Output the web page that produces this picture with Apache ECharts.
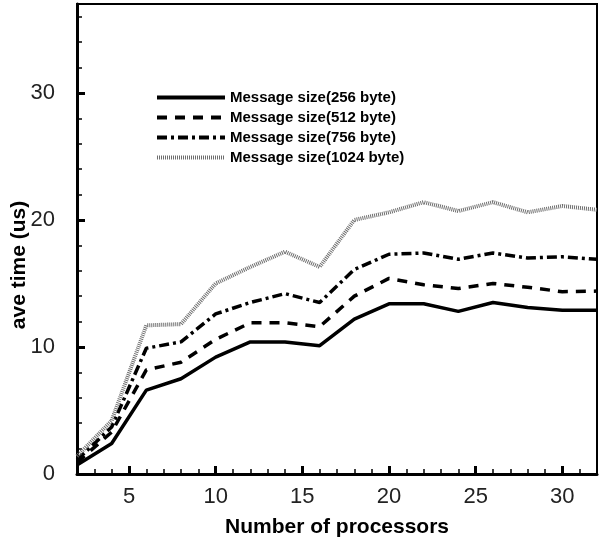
<!DOCTYPE html>
<html>
<head>
<meta charset="utf-8">
<script src="https://cdn.jsdelivr.net/npm/echarts@6/dist/echarts.min.js"></script>
<style>
  html, body { margin: 0; padding: 0; background: #fff; }
  #chart { width: 600px; height: 543px; }
</style>
</head>
<body>
<div id="chart"></div>
<script>
// Average message time versus number of processors, per message size
const processors = [2, 4, 6, 8, 10, 12, 14, 16, 18, 20, 22, 24, 26, 28, 30, 32];
const size256  = [0.7, 2.4, 6.6, 7.5, 9.2, 10.4, 10.4, 10.1, 12.2, 13.4, 13.4, 12.8, 13.5, 13.1, 12.9, 12.9];
const size512  = [0.9, 3.3, 8.2, 8.8, 10.6, 11.9, 11.9, 11.6, 14.0, 15.4, 14.9, 14.6, 15.0, 14.7, 14.35, 14.4];
const size756  = [1.1, 3.7, 9.9, 10.4, 12.6, 13.5, 14.2, 13.5, 16.1, 17.3, 17.4, 16.9, 17.4, 17.0, 17.1, 16.9];
const size1024 = [1.4, 4.2, 11.7, 11.8, 15.0, 16.3, 17.5, 16.3, 20.0, 20.6, 21.4, 20.7, 21.4, 20.6, 21.1, 20.8];

const seriesNames = [
  'Message size(256 byte)',
  'Message size(512 byte)',
  'Message size(756 byte)',
  'Message size(1024 byte)'
];

const xMajor = [5, 10, 15, 20, 25, 30];
const yMajor = [10, 20, 30];
const yLabels = [0, 10, 20, 30];

const FONT = '"Liberation Sans", Arial, sans-serif';

function pairs(ys) {
  return processors.map((x, i) => [x, ys[i]]);
}

const chart = echarts.init(document.getElementById('chart'), null, { renderer: 'canvas' });

const lineStyles = [
  { color: '#000', width: 3.5, type: 'solid' },
  { color: '#000', width: 3.5, type: [10, 8] },
  { color: '#000', width: 3.5, type: [10, 4, 3, 4] },
  { color: '#6e6e6e', width: 4, type: [1, 1] }
];

const valueSets = [size256, size512, size756, size1024];

chart.setOption({
  animation: false,
  backgroundColor: '#fff',
  grid: {
    left: 77, right: 3, top: 4, bottom: 64,
    show: true, borderColor: '#000', borderWidth: 2, backgroundColor: 'transparent'
  },
  legend: {
    orient: 'vertical',
    left: 150,
    top: 85,
    itemWidth: 68,
    itemHeight: 14,
    itemGap: 5,
    data: seriesNames,
    itemStyle: { opacity: 0 },
    lineStyle: { width: 4 },
    textStyle: { fontFamily: FONT, fontWeight: 'bold', fontSize: 15, color: '#000' }
  },
  xAxis: [
    {
      type: 'value', min: 2, max: 32, position: 'bottom',
      name: 'Number of processors', nameLocation: 'middle', nameGap: 43,
      nameTextStyle: { fontFamily: FONT, fontWeight: 'bold', fontSize: 21, color: '#000' },
      axisLine: { show: true, onZero: false, lineStyle: { color: '#000', width: 3 } },
      axisTick: { show: true, inside: true, length: 8, customValues: xMajor, lineStyle: { color: '#000', width: 3 } },
      axisLabel: { customValues: xMajor, fontFamily: FONT, fontSize: 22, color: '#222', margin: 12 },
      splitLine: { show: false }
    },
    {
      type: 'value', min: 2, max: 32, interval: 1, position: 'bottom', offset: 0,
      axisLine: { show: false },
      axisTick: { show: true, inside: true, length: 5, lineStyle: { color: '#000', width: 1.5 } },
      axisLabel: { show: false },
      splitLine: { show: false }
    }
  ],
  yAxis: [
    {
      type: 'value', min: 0, max: 37, position: 'left',
      axisLine: { show: true, onZero: false, lineStyle: { color: '#000', width: 3 } },
      axisTick: { show: true, inside: true, length: 8, customValues: yMajor, lineStyle: { color: '#000', width: 3 } },
      axisLabel: { customValues: yLabels, fontFamily: FONT, fontSize: 22, color: '#222', margin: 22 },
      splitLine: { show: false }
    },
    {
      type: 'value', min: 0, max: 37, interval: 2, position: 'left', offset: 0,
      axisLine: { show: false },
      axisTick: { show: true, inside: true, length: 5, lineStyle: { color: '#000', width: 1.5 } },
      axisLabel: { show: false },
      splitLine: { show: false }
    }
  ],
  graphic: [
    {
      type: 'text',
      x: 19, y: 265,
      rotation: Math.PI / 2,
      style: {
        text: 'ave time (us)',
        font: 'bold 21px ' + FONT,
        fill: '#000',
        align: 'center',
        verticalAlign: 'middle'
      }
    }
  ],
  series: seriesNames.map((name, i) => ({
    name: name,
    type: 'line',
    xAxisIndex: 0,
    yAxisIndex: 0,
    data: pairs(valueSets[i]),
    symbol: 'none',
    showSymbol: false,
    lineStyle: lineStyles[i],
    itemStyle: { color: lineStyles[i].color },
    z: 2
  }))
});
</script>
</body>
</html>
